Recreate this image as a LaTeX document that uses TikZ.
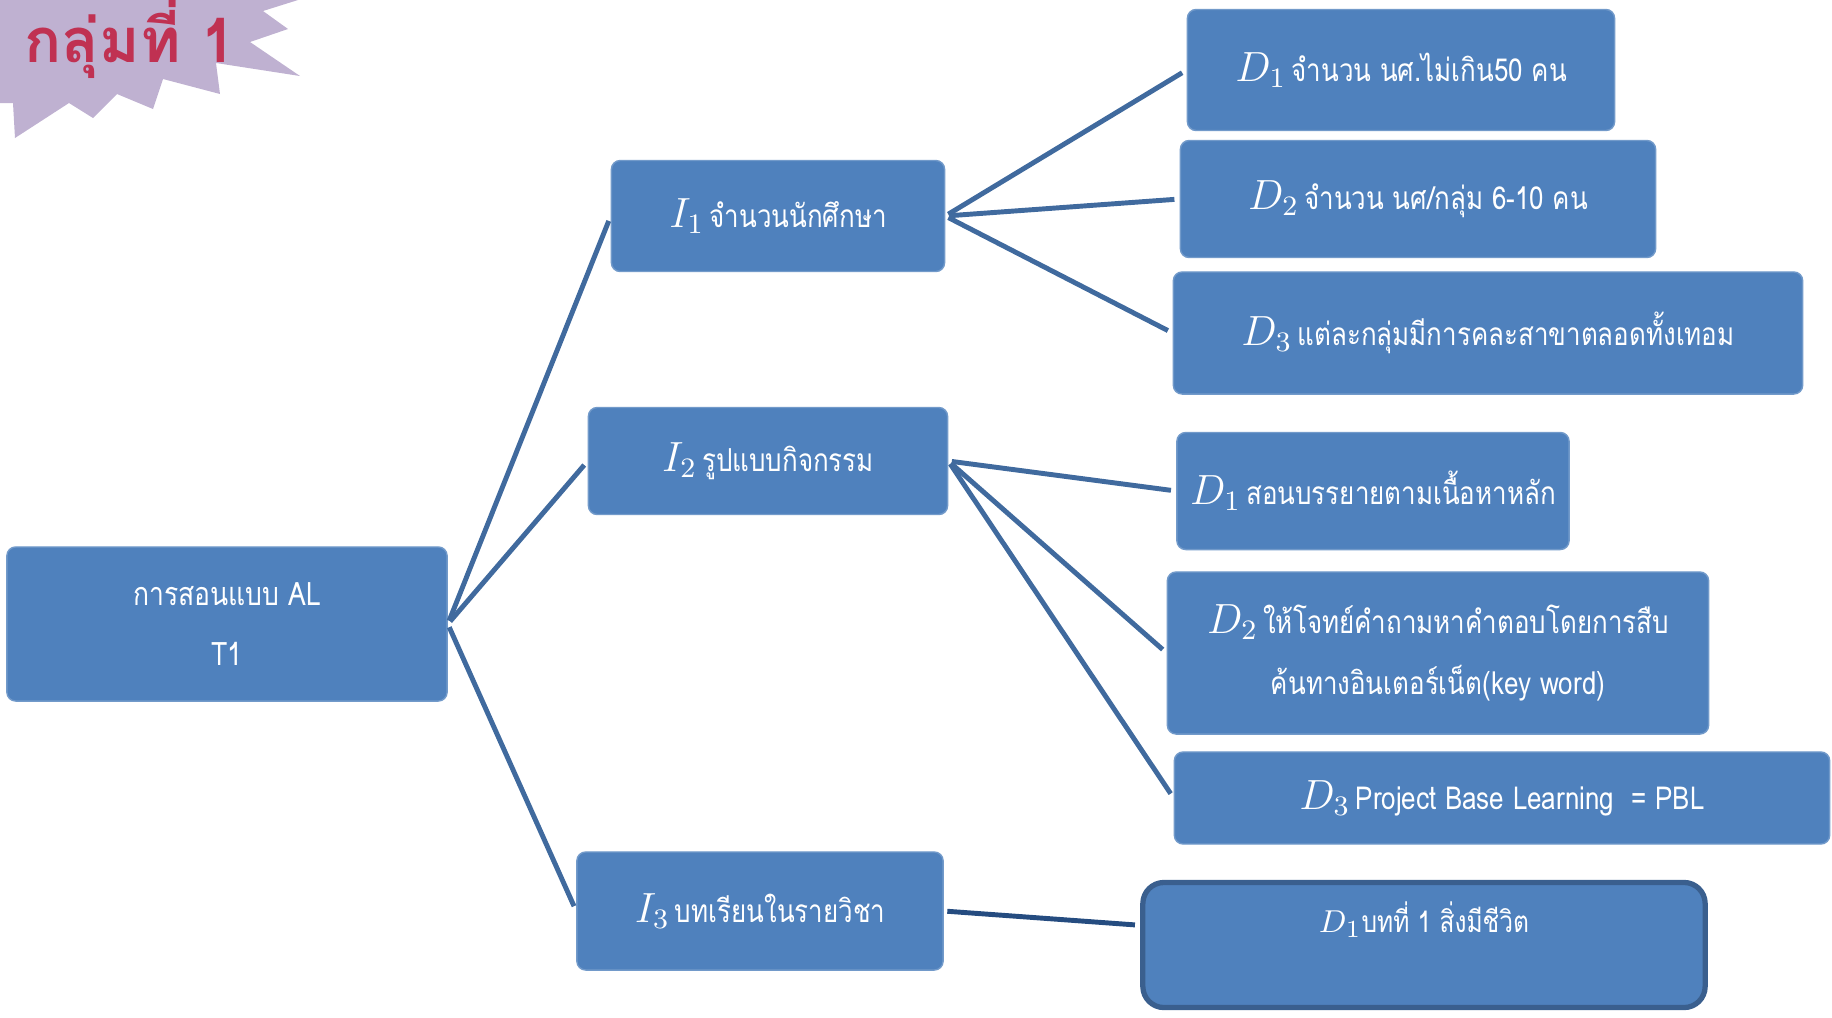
\documentclass[tikz,border=0pt]{standalone}
\usepackage{fontspec}
\newfontfamily\thaifont[Script=Thai,FakeStretch=0.82]{Loma}
\newfontfamily\titlefont[Script=Thai]{Loma}
\definecolor{boxblue}{RGB}{79,129,189}
\definecolor{linkblue}{RGB}{64,106,158}
\definecolor{darkedge}{RGB}{58,95,142}
\definecolor{darklink}{RGB}{37,76,128}
\definecolor{burst}{RGB}{191,177,209}
\definecolor{titlered}{RGB}{192,49,82}
\begin{document}
\begin{tikzpicture}[x=0.01cm,y=-0.01cm,
    box/.style={fill=boxblue,draw=boxblue!80!white,line width=0.4pt,rounded corners=2.5pt,
      text=white,align=center,inner sep=0pt,font=\thaifont\fontsize{9}{17.4}\selectfont},
    link/.style={draw=linkblue,line width=1.4pt,shorten <=1pt,shorten >=1.5pt}]
    \useasboundingbox (0,0) rectangle (1832,1017);

    \fill[burst] (0,0) -- (298,0) -- (263,11) -- (288,29) -- (250,42) -- (300,76) -- (216,63)
        -- (220,94) -- (163,79) -- (153,109) -- (117,94) -- (93,118) -- (69,103) -- (15,138)
        -- (13,103) -- (0,103) -- cycle;
    \node[anchor=base west,text=titlered,inner sep=0pt,font=\titlefont\bfseries\fontsize{17.5}{20}\selectfont]
        (title) at (24,62) {กลุ่มที่ 1};

    \node[box,minimum width=4.4cm,minimum height=1.54cm,font=\thaifont\fontsize{9.2}{16.8}\selectfont]
        (root) at (227,624) {การสอนแบบ AL\\T1};

    \node[box,minimum width=3.33cm,minimum height=1.11cm] (i1) at (778,216) {{\large$I_1$}\,จำนวนนักศึกษา};
    \node[box,minimum width=3.59cm,minimum height=1.07cm] (i2) at (768,461) {{\large$I_2$}\,รูปแบบกิจกรรม};
    \node[box,minimum width=3.66cm,minimum height=1.18cm] (i3) at (760,911) {{\large$I_3$}\,บทเรียนในรายวิชา};

    \node[box,minimum width=4.27cm,minimum height=1.21cm] (i1d1) at (1401,70) {{\large$D_1$}\,จำนวน นศ.ไม่เกิน50 คน};
    \node[box,minimum width=4.75cm,minimum height=1.17cm] (i1d2) at (1418,199) {{\large$D_2$}\,จำนวน นศ/กลุ่ม 6-10 คน};
    \node[box,minimum width=6.29cm,minimum height=1.22cm] (i1d3) at (1488,333) {{\large$D_3$}\,แต่ละกลุ่มมีการคละสาขาตลอดทั้งเทอม};

    \node[box,minimum width=3.92cm,minimum height=1.17cm] (i2d1) at (1373,491) {{\large$D_1$}\,สอนบรรยายตามเนื้อหาหลัก};
    \node[box,minimum width=5.41cm,minimum height=1.62cm] (i2d2) at (1438,653)
        {{\large$D_2$}\,ให้โจทย์คำถามหาคำตอบโดยการสืบ\\ค้นทางอินเตอร์เน็ต(key word)};
    \node[box,minimum width=6.55cm,minimum height=0.92cm] (i2d3) at (1502,798) {{\large$D_3$}\,Project Base Learning~~= PBL};

    \node[box,draw=darkedge,line width=1.5pt,rounded corners=6pt,minimum width=5.62cm,minimum height=1.25cm,
        text depth=0.55cm,font=\thaifont\fontsize{8.5}{12}\selectfont] (i3d1) at (1424,945)
        {{\fontsize{9.5}{12}\selectfont$D_1$}บทที่ 1 สิ่งมีชีวิต};

    \draw[link] (root.east) -- (i1.west);
    \draw[link] (root.east) -- (i2.west);
    \draw[link] (root.east) -- (i3.west);
    \draw[link] (i1.east) -- (i1d1.west);
    \draw[link] (i1.east) -- (i1d2.west);
    \draw[link] (i1.east) -- (i1d3.west);
    \draw[link] (i2.east) -- (i2d1.west);
    \draw[link] (i2.east) -- (i2d2.west);
    \draw[link] (i2.east) -- (i2d3.west);
    \draw[link,draw=darklink] (i3.east) -- (i3d1.mid west);
\end{tikzpicture}
\end{document}
